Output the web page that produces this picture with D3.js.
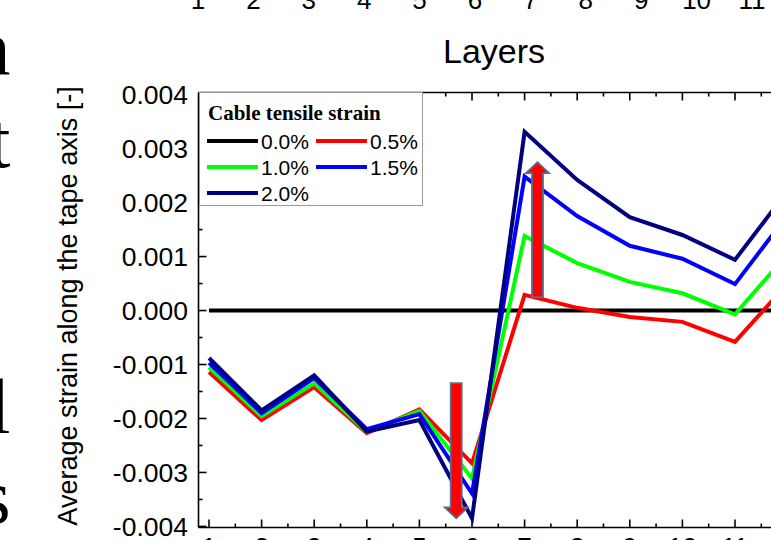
<!DOCTYPE html>
<html>
<head>
<meta charset="utf-8">
<script src="https://cdn.jsdelivr.net/npm/d3@7/dist/d3.min.js"></script>
<style>
  html, body { margin: 0; padding: 0; background: #fff; }
  svg { display: block; }
</style>
</head>
<body>
<svg id="chart" width="771" height="540"></svg>
<script>
// Layer index along the tape stack
const layers = [1, 2, 3, 4, 5, 6, 7, 8, 9, 10, 11, 12];

// Average strain along the tape axis for each cable tensile strain
const strain00 = [0, 0, 0, 0, 0, 0, 0, 0, 0, 0, 0, 0];
const strain05 = [-0.00114, -0.00203, -0.00142, -0.00227, -0.00183, -0.00283, 0.00029, 0.00005, -0.00012, -0.00021, -0.00058, 0.00050];
const strain10 = [-0.00105, -0.00196, -0.00135, -0.00225, -0.00186, -0.00311, 0.00138, 0.00088, 0.00053, 0.00032, -0.00007, 0.00105];
const strain15 = [-0.00097, -0.00190, -0.00125, -0.00220, -0.00192, -0.00339, 0.00248, 0.00175, 0.00120, 0.00096, 0.00049, 0.00177];
const strain20 = [-0.00088, -0.00185, -0.00120, -0.00224, -0.00203, -0.00385, 0.00331, 0.00242, 0.00173, 0.00140, 0.00094, 0.00222];

const seriesNames = ["0.0%", "0.5%", "1.0%", "1.5%", "2.0%"];
const seriesColors = ["#000000", "#ff0000", "#00ff00", "#0000ff", "#000080"];
const seriesValues = [strain00, strain05, strain10, strain15, strain20];

// y tick labels and the layer labels of the upper panel's axis
const yTicks = [0.004, 0.003, 0.002, 0.001, 0, -0.001, -0.002, -0.003, -0.004];
const upperLayerLabels = ["1", "2", "3", "4", "5", "6", "7", "8", "9", "10", "11"];

const svg = d3.select("#chart");

const x = d3.scaleLinear().domain([0.8, 12.2]).range([198.5, 798.1]);
const y = d3.scaleLinear().domain([-0.00402, 0.00404]).range([527.5, 92.5]);

// ---- remnants of the slide around the plot ----
const serif = "'Liberation Serif', 'Times New Roman', serif";
const sans = "'Liberation Sans', Arial, sans-serif";
[["n", 75], ["t", 167], ["l", 433], ["s", 523]].forEach(([ch, by]) => {
  svg.append("text").attr("x", 10.5).attr("y", by)
    .attr("text-anchor", "end").attr("font-family", serif)
    .attr("font-size", 78).attr("fill", "#000").text(ch);
});

// upper panel x labels and title
const xUpper = d3.scaleLinear().domain([1, 11]).range([198, 752]);
svg.append("g").selectAll("text").data(upperLayerLabels).join("text")
  .attr("x", (d, i) => xUpper(i + 1)).attr("y", 9)
  .attr("text-anchor", "middle").attr("font-family", sans)
  .attr("font-size", 26).text(d => d);
svg.append("text").attr("x", 494).attr("y", 63)
  .attr("text-anchor", "middle").attr("font-family", sans)
  .attr("font-size", 34).text("Layers");

// ---- axes frame ----
const axisColor = "#000";
const frame = svg.append("g").attr("stroke", axisColor).attr("stroke-width", 1.6);
frame.append("line").attr("x1", x(0.8)).attr("x2", 771).attr("y1", y(-0.00402)).attr("y2", y(-0.00402));
frame.append("line").attr("x1", x(0.8)).attr("x2", 771).attr("y1", y(0.00404)).attr("y2", y(0.00404));
frame.append("line").attr("x1", x(0.8)).attr("x2", x(0.8)).attr("y1", y(0.00404)).attr("y2", y(-0.00402));

const xMajor = d3.range(1, 13);
const xMinor = d3.range(1.5, 12.5, 1);
const yMajor = d3.range(-4, 5).map(v => v / 1000);
const yMinor = d3.range(-3.5, 4, 1).map(v => v / 1000);

const ticks = svg.append("g").attr("stroke", axisColor).attr("stroke-width", 1.6);
// bottom ticks point up, top ticks point down
xMajor.forEach(v => {
  ticks.append("line").attr("x1", x(v)).attr("x2", x(v)).attr("y1", y(-0.00402)).attr("y2", y(-0.00402) - 8);
  ticks.append("line").attr("x1", x(v)).attr("x2", x(v)).attr("y1", y(0.00404)).attr("y2", y(0.00404) + 8);
});
xMinor.forEach(v => {
  ticks.append("line").attr("x1", x(v)).attr("x2", x(v)).attr("y1", y(-0.00402)).attr("y2", y(-0.00402) - 4);
  ticks.append("line").attr("x1", x(v)).attr("x2", x(v)).attr("y1", y(0.00404)).attr("y2", y(0.00404) + 4);
});
yMajor.forEach(v => {
  ticks.append("line").attr("x1", x(0.8)).attr("x2", x(0.8) + 8).attr("y1", y(v)).attr("y2", y(v));
});
yMinor.forEach(v => {
  ticks.append("line").attr("x1", x(0.8)).attr("x2", x(0.8) + 4).attr("y1", y(v)).attr("y2", y(v));
});

// y tick labels
svg.append("g").selectAll("text").data(yTicks).join("text")
  .attr("x", 188).attr("y", d => y(d)).attr("dy", "0.36em")
  .attr("text-anchor", "end").attr("font-family", sans).attr("font-size", 26.5)
  .text(d => d3.format(".3f")(d).replace("\u2212", "-"));

// x tick labels (bottom, mostly below the visible area)
svg.append("g").selectAll("text").data(xMajor).join("text")
  .attr("x", d => x(d)).attr("y", 556)
  .attr("text-anchor", "middle").attr("font-family", sans).attr("font-size", 26)
  .text(d => d);

// y axis title
svg.append("text")
  .attr("transform", `translate(77, ${306}) rotate(-90)`)
  .attr("text-anchor", "middle").attr("font-family", sans).attr("font-size", 27)
  .text("Average strain along the tape axis [-]");

// ---- series lines ----
const line = d3.line().x((d, i) => x(layers[i])).y(d => y(d));
svg.append("g").selectAll("path").data(seriesValues).join("path")
  .attr("d", d => line(d))
  .attr("fill", "none")
  .attr("stroke", (d, i) => seriesColors[i])
  .attr("stroke-width", 4)
  .attr("stroke-linejoin", "miter");

// ---- arrows showing the trend with increasing cable strain ----
function arrow(xc, yStart, yTip) {
  const dir = yTip > yStart ? 1 : -1;
  const shaftHalf = 5.5, headHalf = 11.5, headLen = 11;
  const yBase = yTip - dir * headLen;
  return `M${xc - shaftHalf},${yStart} L${xc - shaftHalf},${yBase} L${xc - headHalf},${yBase} ` +
         `L${xc},${yTip} L${xc + headHalf},${yBase} L${xc + shaftHalf},${yBase} L${xc + shaftHalf},${yStart} Z`;
}
svg.append("path").attr("d", arrow(x(5.7), y(-0.001345), y(-0.00385)))
  .attr("fill", "#ff0000").attr("stroke", "#4f7192").attr("stroke-width", 1.8);
svg.append("path").attr("d", arrow(x(7.245), y(0.00025), y(0.00275)))
  .attr("fill", "#ff0000").attr("stroke", "#4f7192").attr("stroke-width", 1.8);

// ---- legend ----
const lg = svg.append("g");
lg.append("rect").attr("x", 199.5).attr("y", 92.5).attr("width", 223).attr("height", 113)
  .attr("fill", "#fff").attr("stroke", "#9a9a9a").attr("stroke-width", 1);
lg.append("text").attr("x", 208).attr("y", 120)
  .attr("font-family", serif).attr("font-weight", "bold").attr("font-size", 21)
  .text("Cable tensile strain");
const legendPos = [[207, 141], [316, 141], [207, 167], [316, 167], [207, 193]];
seriesNames.forEach((name, i) => {
  const [lx, ly] = legendPos[i];
  lg.append("line").attr("x1", lx).attr("x2", lx + 51).attr("y1", ly).attr("y2", ly)
    .attr("stroke", seriesColors[i]).attr("stroke-width", 4);
  lg.append("text").attr("x", lx + 54).attr("y", ly + 7.5)
    .attr("font-family", sans).attr("font-size", 21).text(name);
});
</script>
</body>
</html>
